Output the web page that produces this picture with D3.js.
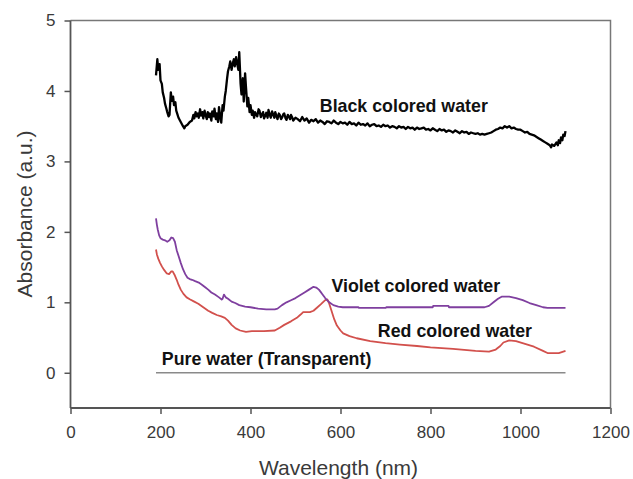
<!DOCTYPE html>
<html>
<head>
<meta charset="utf-8">
<script src="https://cdn.jsdelivr.net/npm/d3@7"></script>
<style>
  html, body { margin: 0; padding: 0; background: #fff; }
  svg { display: block; }
  text { font-family: "Liberation Sans", Arial, Helvetica, sans-serif; }
</style>
</head>
<body>
<div id="chart"></div>
<script>
// ---------- Data ----------
const xTicks = [0, 200, 400, 600, 800, 1000, 1200];
const yTicks = [0, 1, 2, 3, 4, 5];
const xTitle = "Wavelength (nm)";
const yTitle = "Absorbance (a.u.)";

const blackSeries = [
  [190,4.22],[193,4.45],[195,4.30],[198,4.38],[200,4.15],[203,4.10],[205,3.98],[208,3.90],
  [210,3.82],[213,3.75],[215,3.70],[218,3.64],[220,3.66],[223,3.98],[225,3.86],[228,3.92],
  [230,3.80],[233,3.84],[235,3.72],[238,3.66],[240,3.62],[245,3.56],[250,3.50],[253,3.47],
  [255,3.50],[260,3.52],[265,3.56],[270,3.58],[273,3.66],[275,3.61],[278,3.70],[280,3.64],
  [283,3.68],[285,3.62],[288,3.74],[290,3.65],[293,3.70],[295,3.61],[298,3.72],[300,3.66],
  [303,3.60],[305,3.70],[308,3.63],[310,3.68],[313,3.58],[315,3.71],[318,3.64],[320,3.75],
  [323,3.60],[325,3.68],[328,3.56],[330,3.77],[333,3.62],[335,3.55],[338,3.80],[340,3.72],
  [343,3.92],[345,4.00],[348,4.18],[350,4.28],[353,4.35],[355,4.42],[358,4.30],[360,4.38],
  [363,4.45],[365,4.35],[368,4.48],[370,4.40],[373,4.30],[375,4.55],[378,4.10],[380,3.95],
  [383,4.18],[385,3.85],[388,4.25],[390,4.05],[393,3.78],[395,3.90],[398,3.70],[400,3.80],
  [403,3.66],[405,3.72],[408,3.62],[410,3.70],[413,3.66],[415,3.64],[418,3.74],[420,3.72],
  [423,3.63],[425,3.66],[428,3.70],[430,3.61],[433,3.65],[435,3.69],[438,3.62],[440,3.73],
  [443,3.66],[445,3.62],[448,3.71],[450,3.67],[453,3.62],[455,3.70],[458,3.64],[460,3.60],
  [463,3.68],[465,3.66],[468,3.60],[470,3.62],[473,3.67],[475,3.68],[478,3.61],[480,3.59],
  [483,3.66],[485,3.64],[488,3.60],[490,3.66],[493,3.62],[495,3.58],[500,3.62],[505,3.60],
  [510,3.57],[515,3.63],[520,3.58],[525,3.61],[530,3.55],[535,3.59],[540,3.57],[545,3.60],
  [550,3.55],[555,3.58],[560,3.56],[565,3.53],[570,3.57],[575,3.56],[580,3.54],[585,3.58],
  [590,3.55],[595,3.53],[600,3.56],[605,3.54],[610,3.55],[615,3.52],[620,3.56],[625,3.53],
  [630,3.54],[635,3.51],[640,3.55],[645,3.52],[650,3.53],[655,3.51],[660,3.54],[665,3.50],
  [670,3.52],[675,3.53],[680,3.50],[685,3.51],[690,3.49],[695,3.52],[700,3.50],[705,3.51],
  [710,3.48],[715,3.50],[720,3.49],[725,3.47],[730,3.50],[735,3.48],[740,3.49],[745,3.46],
  [750,3.49],[755,3.47],[760,3.48],[765,3.45],[770,3.48],[775,3.46],[780,3.47],[785,3.48],
  [790,3.45],[795,3.46],[800,3.44],[805,3.47],[810,3.45],[815,3.43],[820,3.46],[825,3.44],
  [830,3.45],[835,3.42],[840,3.44],[845,3.43],[850,3.41],[855,3.44],[860,3.42],[865,3.40],
  [870,3.43],[875,3.41],[880,3.42],[885,3.39],[890,3.41],[895,3.40],[900,3.39],[905,3.40],
  [910,3.38],[915,3.39],[920,3.38],[925,3.39],[930,3.40],[935,3.41],[940,3.43],[945,3.45],
  [950,3.46],[955,3.48],[960,3.47],[965,3.50],[970,3.48],[975,3.50],[980,3.47],[985,3.48],
  [990,3.46],[995,3.45],[1000,3.45],[1005,3.43],[1010,3.41],[1015,3.42],[1020,3.39],[1025,3.38],
  [1030,3.37],[1035,3.35],[1040,3.33],[1045,3.31],[1050,3.29],[1055,3.27],[1060,3.25],[1065,3.23],
  [1068,3.20],[1070,3.24],[1075,3.22],[1080,3.27],[1083,3.23],[1085,3.30],[1088,3.26],[1090,3.34],
  [1093,3.30],[1095,3.38],[1098,3.36],[1100,3.43]
];

const violetSeries = [
  [190,2.19],[192,2.10],[194,2.03],[197,1.95],[200,1.91],[205,1.89],[210,1.88],[215,1.86],
  [220,1.88],[224,1.92],[228,1.91],[232,1.86],[236,1.74],[240,1.66],[245,1.56],[250,1.47],
  [255,1.40],[260,1.35],[265,1.33],[270,1.32],[277,1.30],[285,1.28],[292,1.25],[300,1.21],
  [306,1.18],[313,1.14],[321,1.11],[330,1.07],[336,1.04],[338,1.05],[341,1.11],[345,1.07],
  [350,1.05],[358,1.01],[366,0.99],[375,0.96],[388,0.94],[400,0.93],[417,0.91],[435,0.90],
  [454,0.90],[460,0.91],[470,0.96],[480,1.00],[490,1.03],[500,1.06],[510,1.10],[520,1.14],
  [530,1.18],[540,1.22],[546,1.21],[552,1.18],[558,1.13],[566,1.06],[575,1.00],[584,0.96],
  [595,0.94],[605,0.93],[640,0.93],[641,0.92],[700,0.92],[702,0.93],[760,0.93],[805,0.93],
  [806,0.95],[840,0.95],[841,0.93],[920,0.93],[930,0.95],[940,1.00],[950,1.05],[958,1.08],
  [975,1.08],[990,1.06],[1005,1.03],[1020,0.99],[1035,0.96],[1050,0.93],[1060,0.92],[1100,0.92]
];

const redSeries = [
  [190,1.75],[192,1.68],[195,1.62],[199,1.56],[203,1.51],[208,1.46],[214,1.41],[219,1.40],
  [224,1.44],[227,1.44],[232,1.38],[236,1.32],[240,1.25],[245,1.18],[251,1.12],[258,1.07],
  [266,1.04],[275,1.01],[284,0.98],[295,0.93],[306,0.88],[315,0.85],[325,0.82],[335,0.80],
  [343,0.78],[350,0.74],[358,0.68],[367,0.63],[377,0.60],[390,0.58],[403,0.59],[430,0.59],
  [454,0.60],[465,0.64],[475,0.68],[490,0.73],[503,0.78],[512,0.83],[517,0.86],[532,0.86],
  [540,0.88],[547,0.92],[556,0.97],[566,1.03],[571,1.04],[575,0.98],[580,0.88],[586,0.76],
  [592,0.67],[600,0.60],[606,0.56],[620,0.52],[636,0.49],[666,0.45],[700,0.42],[732,0.40],
  [770,0.38],[800,0.36],[850,0.34],[900,0.31],[930,0.30],[945,0.33],[955,0.38],[962,0.43],
  [975,0.46],[990,0.45],[1010,0.41],[1030,0.37],[1050,0.31],[1060,0.28],[1085,0.28],[1100,0.31]
];

const pureSeries = [[190,0],[1100,0]];

const labels = [
  {text: "Black colored water", x: 554, y: 3.70},
  {text: "Violet colored water", x: 580, y: 1.15},
  {text: "Red colored water", x: 683, y: 0.51},
  {text: "Pure water (Transparent)", x: 203, y: 0.11}
];

// ---------- Chart ----------
const W = 633, H = 479;
const mLeft = 70.5, mRight = 610.5, mTop = 20.5, mBottom = 408;

const svg = d3.select("#chart").append("svg").attr("width", W).attr("height", H);

const x = d3.scaleLinear().domain([0, 1200]).range([mLeft, mRight]);
const y = d3.scaleLinear().domain([-0.5, 5]).range([mBottom, mTop]);

const axisColor = "#555";
const labelColor = "#3a3a3a";

// Frame (top and right)
svg.append("path")
  .attr("d", `M${mLeft},${mTop}H${mRight}V${mBottom}`)
  .attr("fill", "none").attr("stroke", "#777").attr("stroke-width", 1.5);

const gx = svg.append("g").attr("transform", `translate(0,${mBottom})`)
  .call(d3.axisBottom(x).tickValues(xTicks).tickSize(6).tickSizeOuter(0).tickPadding(12).tickFormat(d3.format("d")));
const gy = svg.append("g").attr("transform", `translate(${mLeft},0)`)
  .call(d3.axisLeft(y).tickValues(yTicks).tickSize(6).tickSizeOuter(0).tickPadding(9).tickFormat(d3.format("d")));

[gx, gy].forEach(g => {
  g.select(".domain").attr("stroke", axisColor).attr("stroke-width", 1.8);
  g.selectAll(".tick line").attr("stroke", axisColor).attr("stroke-width", 1.5);
  g.selectAll(".tick text").attr("fill", labelColor).attr("font-size", 17)
    .style("font-family", '"Liberation Sans", Arial, sans-serif');
});
gy.select(".domain").attr("d", `M0,${mTop}V${mBottom}`);
gx.select(".domain").attr("d", `M${mLeft},0H${mRight}`);

// Titles
svg.append("text").attr("x", (mLeft + mRight) / 2 - 2).attr("y", 475)
  .attr("text-anchor", "middle").attr("font-size", 21).attr("fill", labelColor).text(xTitle);
svg.append("text").attr("transform", `translate(32,${214}) rotate(-90)`)
  .attr("text-anchor", "middle").attr("font-size", 21).attr("fill", labelColor).text(yTitle);

// Lines
const line = d3.line().x(d => x(d[0])).y(d => y(d[1]));

svg.append("path").datum(pureSeries).attr("d", line)
  .attr("fill", "none").attr("stroke", "#8a8a8a").attr("stroke-width", 1.4);
svg.append("path").datum(redSeries).attr("d", line)
  .attr("fill", "none").attr("stroke", "#d2504c").attr("stroke-width", 1.8).attr("stroke-linejoin", "round");
svg.append("path").datum(violetSeries).attr("d", line)
  .attr("fill", "none").attr("stroke", "#7f3f9f").attr("stroke-width", 1.8).attr("stroke-linejoin", "round");
svg.append("path").datum(blackSeries).attr("d", line)
  .attr("fill", "none").attr("stroke", "#000").attr("stroke-width", 2.3).attr("stroke-linejoin", "round");

// Annotations
svg.selectAll("text.ann").data(labels).enter().append("text")
  .attr("class", "ann")
  .attr("x", d => x(d.x)).attr("y", d => y(d.y))
  .attr("font-size", 17.8).attr("font-weight", "bold").attr("fill", "#111")
  .text(d => d.text);
</script>
</body>
</html>
